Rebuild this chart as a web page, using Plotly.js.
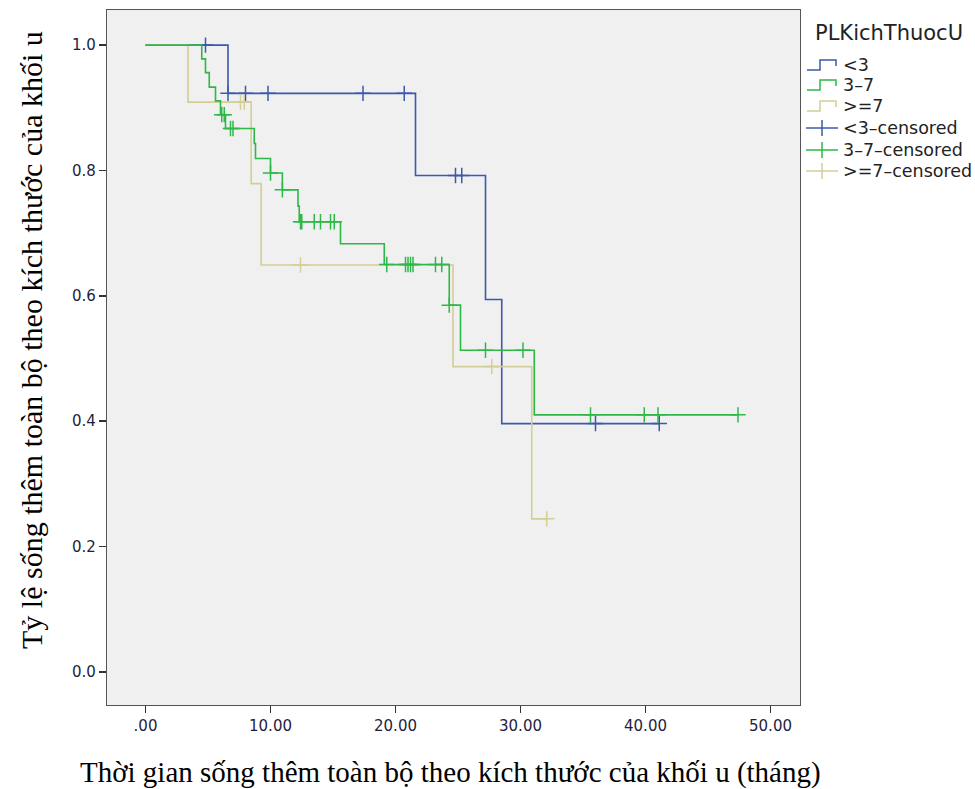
<!DOCTYPE html>
<html>
<head>
<meta charset="utf-8">
<script src="https://cdn.plot.ly/plotly-3.0.1.min.js"></script>
<style>
  html, body { margin: 0; padding: 0; background: #ffffff; }
  #chart { width: 975px; height: 789px; }
</style>
</head>
<body>
<div id="chart"></div>
<script>
// Kaplan-Meier survival by tumour size group (PLKichThuocU)
const groupNames = ['<3', '3\u20137', '>=7'];

// Group <3: event times (months) and survival after each event
const lt3EventTime = [0, 6.6, 21.6, 27.2, 28.5];
const lt3Survival = [1.0, 0.923, 0.792, 0.594, 0.396];
const lt3CensorTime = [4.8, 6.6, 8.0, 9.8, 17.4, 20.7, 24.8, 25.3, 36.0, 41.1];

// Group 3-7
const mid37EventTime = [0, 4.5, 4.8, 5.1, 5.6, 6.0, 6.4, 8.7, 8.8, 10.0, 10.95, 12.2, 12.3, 15.6, 19.1, 24.3, 25.2, 31.1];
const mid37Survival = [1.0, 0.978, 0.956, 0.933, 0.911, 0.889, 0.867, 0.843, 0.819, 0.796, 0.769, 0.743, 0.718, 0.683, 0.650, 0.585, 0.513, 0.410];
const mid37CensorTime = [6.1, 6.3, 6.8, 7.0, 10.0, 10.95, 12.4, 12.5, 13.5, 14.0, 14.8, 15.1, 19.3, 20.8, 21.0, 21.2, 21.4, 23.2, 23.7, 24.3, 27.2, 30.2, 35.6, 39.9, 41.0, 47.4];

// Group >=7
const ge7EventTime = [0, 3.4, 8.45, 9.25, 24.6, 30.9];
const ge7Survival = [1.0, 0.909, 0.779, 0.649, 0.487, 0.244];
const ge7CensorTime = [7.6, 7.9, 12.4, 27.7, 32.1];

const xTickVals = [0, 10, 20, 30, 40, 50];
const xTickText = ['.00', '10.00', '20.00', '30.00', '40.00', '50.00'];
const yTickVals = [0, 0.2, 0.4, 0.6, 0.8, 1.0];

const colors = { lt3: '#3E58AC', mid: '#2EB848', ge7: '#D3CE97' };

// survival value at time t (right-continuous step function)
function survAt(times, surv, t) {
  let s = surv[0];
  for (let i = 0; i < times.length; i++) {
    if (times[i] <= t + 1e-9) s = surv[i];
  }
  return s;
}

function stepTrace(times, surv, censors, color) {
  const end = Math.max(times[times.length - 1], ...censors);
  return {
    x: times.concat([end]),
    y: surv.concat([surv[surv.length - 1]]),
    mode: 'lines',
    line: { shape: 'hv', color: color, width: 1.6 },
    hoverinfo: 'skip',
    showlegend: false
  };
}

function censorTrace(times, surv, censors, color) {
  return {
    x: censors,
    y: censors.map(t => survAt(times, surv, t)),
    mode: 'markers',
    marker: { symbol: 'cross-thin', size: 11, line: { color: color, width: 1.5 } },
    hoverinfo: 'skip',
    showlegend: false
  };
}

const traces = [
  stepTrace(lt3EventTime, lt3Survival, lt3CensorTime, colors.lt3),
  censorTrace(lt3EventTime, lt3Survival, lt3CensorTime, colors.lt3),
  stepTrace(ge7EventTime, ge7Survival, ge7CensorTime, colors.ge7),
  censorTrace(ge7EventTime, ge7Survival, ge7CensorTime, colors.ge7),
  stepTrace(mid37EventTime, mid37Survival, mid37CensorTime, colors.mid),
  censorTrace(mid37EventTime, mid37Survival, mid37CensorTime, colors.mid)
];

// plot area in pixels
const L = 107, R = 800, T = 10, B = 705;
const W = 975, H = 789;
const px = x => (x - L) / (R - L);
const py = y => (B - y) / (B - T);

// hand-drawn legend at the right of the plot
const shapes = [];
const annotations = [];
const legendColors = [colors.lt3, colors.mid, colors.ge7];
const rowY = [65, 85, 106, 128, 150, 171];
const legendLabels = groupNames.concat(groupNames.map(g => g + '\u2013censored'));

annotations.push({
  xref: 'paper', yref: 'paper', x: px(813), y: py(33),
  xanchor: 'left', yanchor: 'middle', showarrow: false,
  text: 'PLKichThuocU',
  font: { family: 'DejaVu Sans, sans-serif', size: 21, color: '#222222' }
});

for (let i = 0; i < 6; i++) {
  const cy = rowY[i];
  const c = legendColors[i % 3];
  if (i < 3) {
    shapes.push({
      type: 'path', xref: 'paper', yref: 'paper',
      path: `M ${px(807)} ${py(cy + 5)} L ${px(820)} ${py(cy + 5)} L ${px(820)} ${py(cy - 5)} L ${px(836)} ${py(cy - 5)} L ${px(836)} ${py(cy + 1)}`,
      line: { color: c, width: 1.5 }
    });
  } else {
    shapes.push({
      type: 'line', xref: 'paper', yref: 'paper',
      x0: px(806), x1: px(838), y0: py(cy), y1: py(cy),
      line: { color: c, width: 1.5 }
    });
    shapes.push({
      type: 'line', xref: 'paper', yref: 'paper',
      x0: px(822), x1: px(822), y0: py(cy - 8), y1: py(cy + 8),
      line: { color: c, width: 1.5 }
    });
  }
  annotations.push({
    xref: 'paper', yref: 'paper', x: px(841), y: py(cy),
    xanchor: 'left', yanchor: 'middle', showarrow: false,
    text: legendLabels[i].replace(/</g, '&lt;').replace(/>/g, '&gt;'),
    font: { family: 'DejaVu Sans, sans-serif', size: 17.5, color: '#222222' }
  });
}

// axis titles
annotations.push({
  xref: 'paper', yref: 'paper', x: px(450), y: py(772),
  xanchor: 'center', yanchor: 'middle', showarrow: false,
  text: 'Thời gian sống thêm toàn bộ theo kích thước của khối u (tháng)',
  font: { family: 'Liberation Serif, Times New Roman, serif', size: 29, color: '#000000' }
});
annotations.push({
  xref: 'paper', yref: 'paper', x: px(31), y: py(340),
  xanchor: 'center', yanchor: 'middle', showarrow: false, textangle: -90,
  text: 'Tỷ lệ sống thêm toàn bộ theo kích thước của khối u',
  font: { family: 'Liberation Serif, Times New Roman, serif', size: 30, color: '#000000' }
});

const tickFont = { family: 'DejaVu Sans, sans-serif', size: 15, color: '#1e1e40' };

const layout = {
  width: W, height: H,
  margin: { l: L, r: W - R, t: T, b: H - B, pad: 0 },
  paper_bgcolor: '#ffffff',
  plot_bgcolor: '#F0F0F0',
  showlegend: false,
  xaxis: {
    range: [-3.08, 52.36],
    tickvals: xTickVals, ticktext: xTickText,
    ticks: 'outside', ticklen: 7, tickwidth: 1.5, tickcolor: '#333333',
    showgrid: false, zeroline: false,
    showline: true, linecolor: '#555555', linewidth: 1.2, mirror: true,
    tickfont: tickFont
  },
  yaxis: {
    range: [-0.053, 1.056],
    tickvals: yTickVals, tickformat: '.1f',
    ticks: 'outside', ticklen: 7, tickwidth: 1.5, tickcolor: '#333333',
    showgrid: false, zeroline: false,
    showline: true, linecolor: '#555555', linewidth: 1.2, mirror: true,
    tickfont: tickFont
  },
  shapes: shapes,
  annotations: annotations
};

Plotly.newPlot('chart', traces, layout, { staticPlot: true, displayModeBar: false });
</script>
</body>
</html>
